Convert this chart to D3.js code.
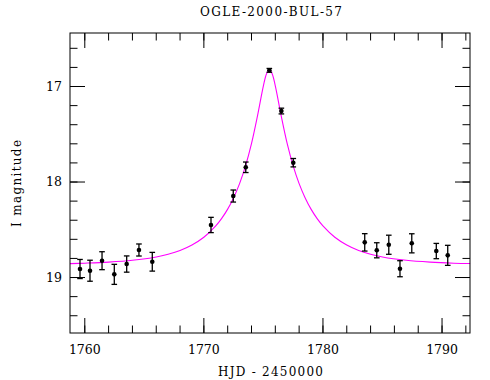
<!DOCTYPE html>
<html>
<head>
<meta charset="utf-8">
<script src="https://cdn.jsdelivr.net/npm/d3@7"></script>
<style>
  html, body { margin: 0; padding: 0; background: #fff; }
  svg { display: block; }
</style>
</head>
<body>
<svg id="chart" width="490" height="380"></svg>
<script>
// Observations (HJD - 2450000, I magnitude, error)
const obsDays = [1759.64, 1760.48, 1761.49, 1762.52, 1763.56, 1764.59, 1765.71, 1770.64, 1772.51, 1773.56,
                 1775.54, 1776.55, 1777.55, 1783.55, 1784.56, 1785.57, 1786.51, 1787.50, 1789.56, 1790.52];
const obsMags = [18.916, 18.934, 18.829, 18.972, 18.864, 18.717, 18.840, 18.455, 18.152, 17.851,
                 16.836, 17.262, 17.803, 18.637, 18.720, 18.662, 18.913, 18.647, 18.728, 18.773];
const obsErrs = [0.100, 0.110, 0.094, 0.105, 0.085, 0.063, 0.098, 0.080, 0.063, 0.055,
                 0.020, 0.030, 0.044, 0.091, 0.079, 0.100, 0.084, 0.100, 0.080, 0.105];

// Model curve
const modelDays = [1758.8, 1760.04, 1762.04, 1764.04, 1766.04, 1767.04, 1768.04, 1769.04, 1770.04, 1771.04,
                   1771.54, 1772.04, 1772.54, 1773.04, 1773.54, 1774.04, 1774.54, 1775.04, 1775.29, 1775.54,
                   1775.79, 1776.04, 1776.54, 1777.04, 1777.54, 1778.04, 1778.54, 1779.04, 1779.54, 1780.04,
                   1781.04, 1782.04, 1783.04, 1784.04, 1785.04, 1787.04, 1789.04, 1791.04, 1792.4];
const modelMags = [18.860, 18.855, 18.844, 18.825, 18.790, 18.761, 18.722, 18.665, 18.584, 18.465,
                   18.386, 18.289, 18.169, 18.022, 17.837, 17.604, 17.316, 16.999, 16.876, 16.827,
                   16.876, 16.999, 17.316, 17.604, 17.837, 18.022, 18.169, 18.289, 18.386, 18.465,
                   18.584, 18.665, 18.722, 18.761, 18.790, 18.825, 18.844, 18.855, 18.859];

const xMajor = [1760, 1770, 1780, 1790];
const xMinor = [1760, 1762, 1764, 1766, 1768, 1770, 1772, 1774, 1776, 1778, 1780, 1782, 1784, 1786, 1788, 1790, 1792];
const yMajor = [17, 18, 19];
const yMinor = [16.6, 16.8, 17.0, 17.2, 17.4, 17.6, 17.8, 18.0, 18.2, 18.4, 18.6, 18.8, 19.0, 19.2, 19.4];

const titleText = "OGLE-2000-BUL-57";
const xLabel = "HJD - 2450000";
const yLabel = "I magnitude";

const L = 70, R = 470, T = 33, B = 333;
const svg = d3.select("#chart");
const font = "'DejaVu Serif', serif";

const x = d3.scaleLinear().domain([1758.8, 1792.39]).range([L, R]);
const y = d3.scaleLinear().domain([16.445, 19.586]).range([T, B]);

// model curve
const line = d3.line().x((d, i) => x(modelDays[i])).y((d, i) => y(modelMags[i])).curve(d3.curveCatmullRom);
svg.append("path")
  .attr("d", line(modelDays))
  .attr("fill", "none")
  .attr("stroke", "#ff00ff")
  .attr("stroke-width", 1.1);

// axes
function styleAxis(g) {
  g.select(".domain").remove();
  g.selectAll(".tick line").attr("stroke", "#000").attr("stroke-width", 1);
  g.selectAll("text").attr("fill", "#000").attr("font-family", font).attr("font-size", 12.5);
}
svg.append("g").attr("transform", `translate(0,${B})`)
  .call(d3.axisBottom(x).tickValues(xMinor).tickSize(-7.5).tickFormat(""))
  .call(styleAxis);
svg.append("g").attr("transform", `translate(0,${B})`)
  .call(d3.axisBottom(x).tickValues(xMajor).tickSize(-15).tickPadding(12).tickFormat(d3.format("d")))
  .call(styleAxis);
svg.append("g").attr("transform", `translate(0,${T})`)
  .call(d3.axisTop(x).tickValues(xMinor).tickSize(-7.5).tickFormat(""))
  .call(styleAxis);
svg.append("g").attr("transform", `translate(0,${T})`)
  .call(d3.axisTop(x).tickValues(xMajor).tickSize(-15).tickFormat(""))
  .call(styleAxis);
svg.append("g").attr("transform", `translate(${L},0)`)
  .call(d3.axisLeft(y).tickValues(yMinor).tickSize(-7.5).tickFormat(""))
  .call(styleAxis);
svg.append("g").attr("transform", `translate(${L},0)`)
  .call(d3.axisLeft(y).tickValues(yMajor).tickSize(-15).tickPadding(8).tickFormat(d3.format("d")))
  .call(styleAxis);
svg.append("g").attr("transform", `translate(${R},0)`)
  .call(d3.axisRight(y).tickValues(yMinor).tickSize(-7.5).tickFormat(""))
  .call(styleAxis);
svg.append("g").attr("transform", `translate(${R},0)`)
  .call(d3.axisRight(y).tickValues(yMajor).tickSize(-15).tickFormat(""))
  .call(styleAxis);

// frame
svg.append("rect").attr("x", L).attr("y", T).attr("width", R - L).attr("height", B - T)
  .attr("fill", "none").attr("stroke", "#000").attr("stroke-width", 1);

// error bars and points
const pts = svg.append("g");
obsDays.forEach((d, i) => {
  const cx = x(d), y1 = y(obsMags[i] - obsErrs[i]), y2 = y(obsMags[i] + obsErrs[i]);
  pts.append("line").attr("x1", cx).attr("x2", cx).attr("y1", y1).attr("y2", y2)
    .attr("stroke", "#000").attr("stroke-width", 1.3);
  pts.append("line").attr("x1", cx - 2.8).attr("x2", cx + 2.8).attr("y1", y1).attr("y2", y1)
    .attr("stroke", "#000").attr("stroke-width", 1.3);
  pts.append("line").attr("x1", cx - 2.8).attr("x2", cx + 2.8).attr("y1", y2).attr("y2", y2)
    .attr("stroke", "#000").attr("stroke-width", 1.3);
  pts.append("circle").attr("cx", cx).attr("cy", y(obsMags[i])).attr("r", 2.3).attr("fill", "#000");
});

// texts
svg.append("text").attr("x", 271).attr("y", 16).attr("text-anchor", "middle")
  .attr("font-family", font).attr("font-size", 12).attr("textLength", 142).attr("lengthAdjust", "spacing")
  .text(titleText);
svg.append("text").attr("x", 270.5).attr("y", 376).attr("text-anchor", "middle")
  .attr("font-family", font).attr("font-size", 12).attr("textLength", 105).attr("lengthAdjust", "spacing")
  .text(xLabel);
svg.append("text").attr("transform", "translate(21,183.5) rotate(-90)").attr("text-anchor", "middle")
  .attr("font-family", font).attr("font-size", 12).attr("textLength", 87).attr("lengthAdjust", "spacing")
  .text(yLabel);
</script>
</body>
</html>
